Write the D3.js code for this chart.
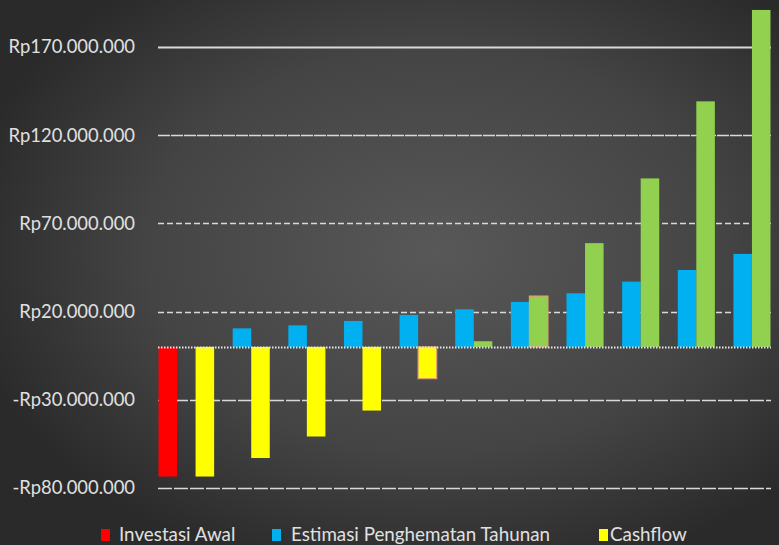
<!DOCTYPE html>
<html>
<head>
<meta charset="utf-8">
<script src="https://cdn.jsdelivr.net/npm/d3@7"></script>
<style>
  html, body { margin: 0; padding: 0; background: #333; }
  svg { display: block; font-family: Lato, "Open Sans", sans-serif; }
</style>
</head>
<body>
<svg id="chart" width="779" height="545"></svg>
<script>
// data (juta rupiah)
var years = [0, 1, 2, 3, 4, 5, 6, 7, 8, 9, 10];
var investasiAwal = [-73.5, 0, 0, 0, 0, 0, 0, 0, 0, 0, 0];
var estimasiPenghematan = [0, 10.5, 12.2, 14.7, 18.1, 21.3, 25.5, 30.4, 37.0, 43.6, 52.7];
var cashflow = [-73.5, -63.0, -50.8, -36.1, -18.0, 3.2, 28.8, 58.8, 95.5, 139.2, 191.0];
var tickValues = [-80, -30, 20, 70, 120, 170];
var seriesNames = ["Investasi Awal", "Estimasi Penghematan Tahunan", "Cashflow"];
var seriesKeys = ["inv", "est", "cf"];

var svg = d3.select("#chart");
var W = 779, H = 545;

// background
var defs = svg.append("defs");
var grad = defs.append("radialGradient").attr("id", "bg")
	.attr("cx", 0.56).attr("cy", 0.46).attr("r", 0.62);
grad.append("stop").attr("offset", "0%").attr("stop-color", "#585858");
grad.append("stop").attr("offset", "60%").attr("stop-color", "#444444");
grad.append("stop").attr("offset", "100%").attr("stop-color", "#2a2a2a");
svg.append("rect").attr("width", W).attr("height", H).attr("fill", "url(#bg)");

var x0 = d3.scaleBand().domain(years).range([158.5, 770.5]).padding(0);
var x1 = d3.scaleBand().domain(seriesKeys).range([0, x0.bandwidth()]).padding(0);
var y = d3.scaleLinear().domain([-80, 170]).range([488, 47]);

// gridlines
var dashFor = function(v) {
	if (v == 170) return null;
	if (v == 120) return "12,1";
	if (v == 70 || v == 20) return "6,3";
	return "14,2";
};
svg.append("g").selectAll("line").data(tickValues).enter().append("line")
	.attr("x1", 158).attr("x2", 771)
	.attr("y1", function(d) { return Math.round(y(d)) + 0.5; })
	.attr("y2", function(d) { return Math.round(y(d)) + 0.5; })
	.attr("stroke", "#d9d9d9")
	.attr("stroke-width", function(d) { return d == 170 ? 2 : 1.5; })
	.attr("stroke-dasharray", dashFor);

// bars
var rows = years.map(function(yr, i) {
	return [
		{ key: "inv", year: yr, value: investasiAwal[i] },
		{ key: "est", year: yr, value: estimasiPenghematan[i] },
		{ key: "cf", year: yr, value: cashflow[i] }
	];
});
var colorFor = function(d) {
	if (d.key == "inv") return "#ff0000";
	if (d.key == "est") return "#00b0f0";
	return d.value < 0 ? "#ffff00" : "#92d050";
};
var borderYears = [4, 6];

var groups = svg.append("g").selectAll("g").data(rows).enter().append("g")
	.attr("transform", function(d, i) { return "translate(" + x0(years[i]) + ",0)"; });
groups.selectAll("rect")
	.data(function(d) { return d.filter(function(b) { return b.value != 0; }); })
	.enter().append("rect")
	.attr("x", function(d) { return x1(d.key); })
	.attr("width", x1.bandwidth())
	.attr("y", function(d) { return y(Math.max(0, d.value)); })
	.attr("height", function(d) { return Math.abs(y(d.value) - y(0)); })
	.attr("fill", colorFor)
	.attr("stroke", function(d) {
		return (d.key == "cf" && borderYears.indexOf(d.year) >= 0) ? "#e0a070" : "none";
	})
	.attr("stroke-width", 1.2);

// zero axis (dotted)
svg.append("line")
	.attr("x1", 158).attr("x2", 771)
	.attr("y1", Math.round(y(0)) + 0.5).attr("y2", Math.round(y(0)) + 0.5)
	.attr("stroke", "#e8e8e8").attr("stroke-width", 2)
	.attr("stroke-dasharray", "1.5,1.5");

// tick labels
var fmt = function(v) {
	var s = d3.format(",")(Math.abs(v) * 1000000).replace(/,/g, ".");
	return (v < 0 ? "-" : "") + "Rp" + s;
};
svg.append("g").selectAll("text").data(tickValues).enter().append("text")
	.attr("x", 135)
	.attr("y", function(d) { return y(d); })
	.attr("dy", "0.35em")
	.attr("text-anchor", "end")
	.attr("fill", "#e0e0e0")
	.attr("font-size", 18.4)
	.text(fmt);

// legend
var legendItems = [
	{ name: seriesNames[0], color: "#ff0000", sx: 101, tx: 119 },
	{ name: seriesNames[1], color: "#00b0f0", sx: 272, tx: 291 },
	{ name: seriesNames[2], color: "#ffff00", sx: 599, tx: 610 }
];
var lg = svg.append("g").selectAll("g").data(legendItems).enter().append("g");
lg.append("rect")
	.attr("x", function(d) { return d.sx; }).attr("y", 529)
	.attr("width", 9).attr("height", 12)
	.attr("fill", function(d) { return d.color; });
lg.append("text")
	.attr("x", function(d) { return d.tx; }).attr("y", 541)
	.attr("fill", "#e0e0e0")
	.attr("font-size", 18.8)
	.text(function(d) { return d.name; });
</script>
</body>
</html>
